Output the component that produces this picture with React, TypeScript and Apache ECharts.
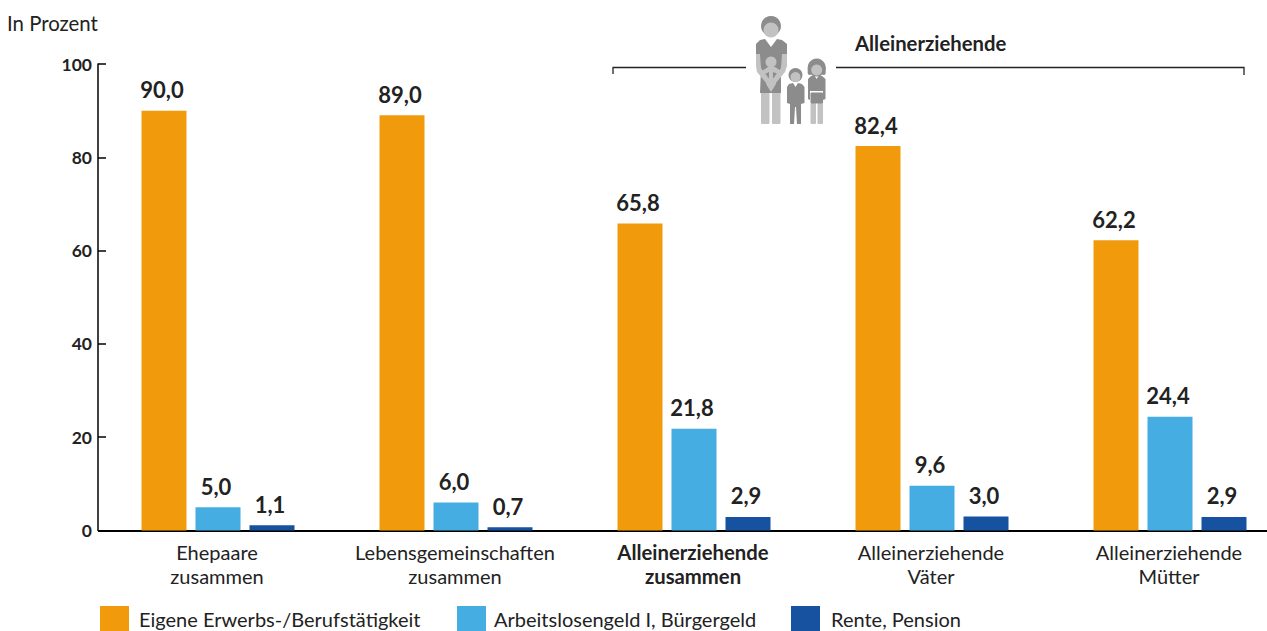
import React, { useEffect, useRef } from "react";
import * as echarts from "echarts";

const categories = [
  "Ehepaare\nzusammen",
  "Lebensgemeinschaften\nzusammen",
  "Alleinerziehende\nzusammen",
  "Alleinerziehende\nVäter",
  "Alleinerziehende\nMütter",
];
const boldCategory = "Alleinerziehende\nzusammen";
const seriesNames = ["Eigene Erwerbs-/Berufstätigkeit", "Arbeitslosengeld I, Bürgergeld", "Rente, Pension"];
const erwerb = [90.0, 89.0, 65.8, 82.4, 62.2];
const arbeitslos = [5.0, 6.0, 21.8, 9.6, 24.4];
const rente = [1.1, 0.7, 2.9, 3.0, 2.9];
const colors = ["#f19b0c", "#46ade2", "#1652a0"];
const FONT = "Lato, 'Noto Sans', sans-serif";
const TEXT = "#222222";
const DARK = "#8c8c8c";
const LIGHT = "#c2c2c2";

const fmt = (v: number) => v.toFixed(1).replace(".", ",");

const poly = (points: number[][], fill: string) => ({ type: "polygon", shape: { points }, style: { fill } });
const circ = (cx: number, cy: number, r: number, fill: string) => ({ type: "circle", shape: { cx, cy, r }, style: { fill } });
const box = (x: number, y: number, width: number, height: number, fill: string, r = 1) => ({
  type: "rect",
  shape: { x, y, width, height, r },
  style: { fill },
});

const family = [
  // mother
  circ(771, 26, 10, DARK),
  circ(771, 30, 7.5, LIGHT),
  box(761, 92, 8.5, 32, LIGHT),
  box(772, 92, 8.5, 32, LIGHT),
  poly([[760, 40], [765, 39], [771, 47], [777, 39], [782, 40], [787, 44], [787, 54], [781, 68], [781, 93], [760, 93], [761, 68], [756, 54], [756, 44]], DARK),
  poly([[756, 54], [760, 54], [761, 68], [770, 80], [767, 84], [757, 72], [756, 66]], LIGHT),
  poly([[787, 54], [782, 54], [781, 68], [772, 80], [775, 84], [785, 72], [787, 66]], LIGHT),
  // baby
  circ(771, 62, 5.5, LIGHT),
  poly([[762, 71], [768, 67], [775, 67], [781, 71], [778, 74], [773, 72], [773, 80], [776, 84], [771, 92], [766, 84], [769, 80], [769, 72], [765, 74]], LIGHT),
  // boy
  circ(795.5, 75, 7, DARK),
  circ(795.5, 77, 5, LIGHT),
  poly([[789, 84], [793, 83], [795.5, 87], [798, 83], [802, 84], [804.5, 87], [804.5, 103], [801, 104], [801, 124], [797, 124], [796, 107], [795, 107], [794, 124], [790, 124], [790, 104], [787, 103], [787, 87]], DARK),
  // girl
  circ(816.7, 67.5, 9, DARK),
  box(807.7, 66, 4, 9, DARK, 2),
  box(821.7, 66, 4, 9, DARK, 2),
  circ(816.7, 70, 5.5, LIGHT),
  box(810.5, 103, 5.5, 21, LIGHT),
  box(817.5, 103, 5.5, 21, LIGHT),
  poly([[811, 76], [814, 75], [816.7, 79], [819, 75], [822, 76], [825.5, 79], [825.5, 99], [823, 100], [823, 91], [810, 91], [810, 100], [808, 99], [808, 79]], DARK),
  box(810.5, 92.5, 12.5, 11, DARK),
];

const legendLefts = [100, 457, 791];
const legendTextGaps = [5, 3, 6];

export default function App() {
  const ref = useRef<HTMLDivElement>(null);
  useEffect(() => {
    if (!ref.current) return;
    const chart = echarts.init(ref.current, undefined, { renderer: "svg" });
    const barSeries = (name: string, data: number[], color: string) => ({
      name,
      type: "bar",
      data,
      barWidth: 45,
      barGap: "20%",
      itemStyle: { color },
      label: {
        show: true,
        position: "top",
        distance: 10,
        offset: [-2, 0],
        formatter: (p: any) => fmt(p.value),
        fontFamily: FONT,
        fontWeight: "bold",
        fontSize: 22,
        color: TEXT,
      },
    });
    chart.setOption({
      animation: false,
      backgroundColor: "#ffffff",
      textStyle: { fontFamily: FONT },
      grid: { left: 99, top: 64, width: 1190, height: 466.5, containLabel: false, outerBoundsMode: "none" },
      legend: seriesNames.map((name, i) => ({
        data: [name],
        left: legendLefts[i],
        top: 606,
        padding: 0,
        icon: "rect",
        itemWidth: 29,
        itemHeight: 25,
        itemGap: 0,
        textStyle: { fontFamily: FONT, fontSize: 20, color: TEXT, padding: [0, 0, 0, legendTextGaps[i]] },
        selectedMode: false,
      })),
      xAxis: {
        type: "category",
        data: categories,
        axisLine: { show: true, lineStyle: { color: "#000000", width: 2 } },
        axisTick: { show: false },
        axisLabel: {
          margin: 9,
          interval: 0,
          padding: [0, 2, 0, 0],
          fontFamily: FONT,
          fontSize: 20,
          lineHeight: 24,
          color: TEXT,
          formatter: (v: string) =>
            v === boldCategory
              ? v.split("\n").map((l) => `{b|${l}}`).join("\n")
              : v,
          rich: { b: { fontFamily: FONT, fontSize: 20.3, lineHeight: 24, fontWeight: "bold", color: TEXT } },
        },
      },
      yAxis: {
        type: "value",
        min: 0,
        max: 100,
        interval: 20,
        offset: 1,
        splitLine: { show: false },
        axisLine: { show: true, lineStyle: { color: "#000000", width: 1.5 } },
        axisTick: { show: true, inside: true, length: 8, lineStyle: { color: "#000000", width: 1.5 } },
        axisLabel: { margin: 6, fontFamily: FONT, fontSize: 17.5, fontWeight: "bold", color: TEXT },
      },
      series: [
        barSeries(seriesNames[0], erwerb, colors[0]),
        barSeries(seriesNames[1], arbeitslos, colors[1]),
        barSeries(seriesNames[2], rente, colors[2]),
      ],
      graphic: [
        { type: "text", left: 7, top: 13, style: { text: "In Prozent", font: `20.4px ${FONT}`, fill: TEXT } },
        { type: "text", left: 855, top: 33, style: { text: "Alleinerziehende", font: `bold 20.3px ${FONT}`, fill: TEXT } },
        { type: "polyline", shape: { points: [[613, 74], [613, 67.5], [746, 67.5]] }, style: { stroke: "#222222", lineWidth: 1.3, fill: "none" } },
        { type: "polyline", shape: { points: [[836, 67.5], [1244, 67.5], [1244, 75]] }, style: { stroke: "#222222", lineWidth: 1.3, fill: "none" } },
        { type: "group", children: family },
      ],
    });
    return () => chart.dispose();
  }, []);
  return <div ref={ref} style={{ position: "absolute", left: 0, top: 0, width: 1267, height: 631 }} />;
}
